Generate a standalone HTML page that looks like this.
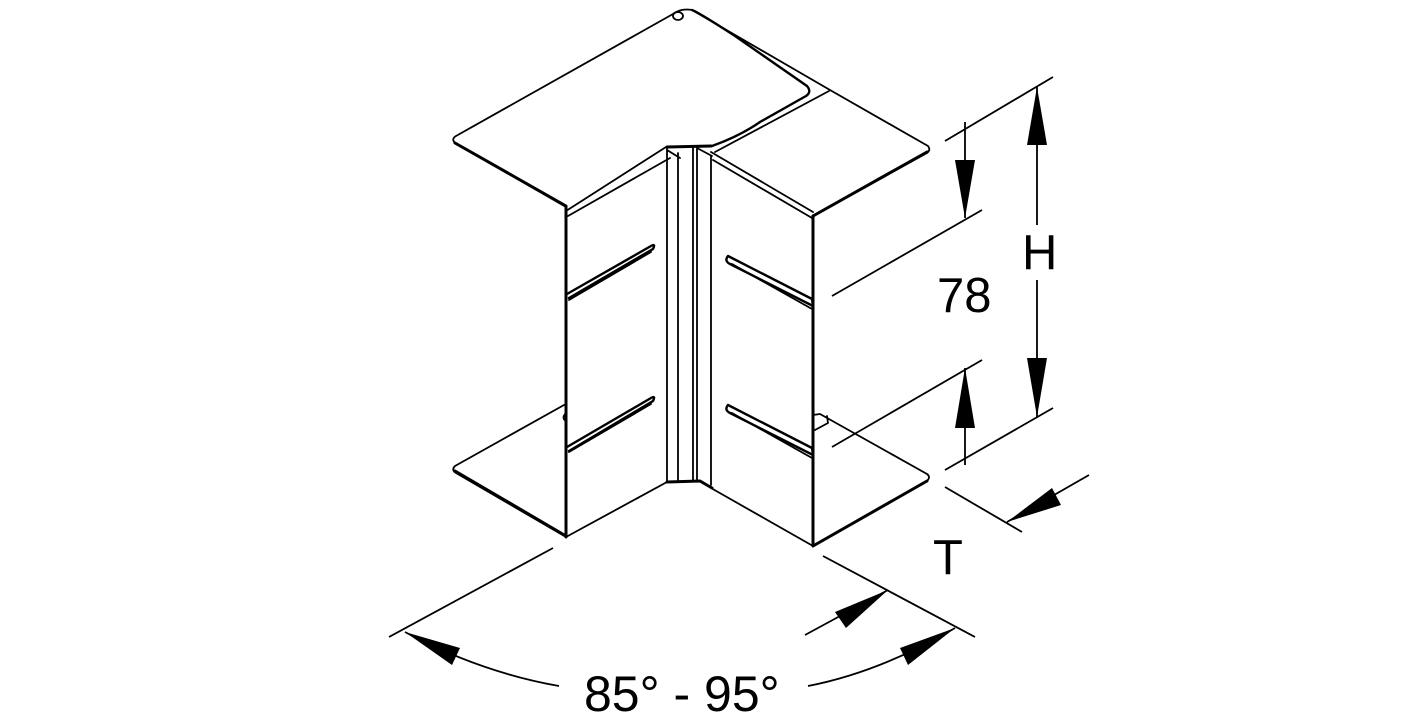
<!DOCTYPE html>
<html><head><meta charset="utf-8"><style>
html,body{margin:0;padding:0;background:#fff;}
svg{display:block}
text{font-family:"Liberation Sans",sans-serif;fill:#000}
</style></head><body>
<svg width="1417" height="720" viewBox="0 0 1417 720" xmlns="http://www.w3.org/2000/svg">
<g fill="none" stroke="#000" stroke-width="1.8" stroke-linejoin="round" stroke-linecap="round">
<!-- top plate -->
<path d="M566,207 L455,143 Q451,139 456,136 L673,14 Q681,8 692,10 L830,90 L928,146 Q931,150 927,153 L813,216" />
<path d="M455,143 L566,206" stroke-width="3"/>
<path d="M813,216 L927,152" stroke-width="3"/>
<path d="M692,10 Q698,12 735,36 L807,86 Q812,92 806,96 L760,122 Q740,136 712,146" stroke-width="2.4"/>
<path d="M829,91 L715,152"/>
<ellipse cx="678" cy="16" rx="5" ry="4"/>
<path d="M566,211 L666,147 M568,216 L670,158"/>
<path d="M566,207 L566,537" stroke-width="3"/>
<!-- center channel -->
<path d="M667,147 L711,146" stroke-width="3"/>
<path d="M667,147 L667,482 M678,153 L678,480 M693,147 L693,480 M697,147 L697,480 M711,156 L711,485 M667,150 L680,158 M697,148 L712,156"/>
<path d="M667,482 L700,481 L712,488" stroke-width="3"/>
<!-- right wall -->
<path d="M711,152 L813,212 M713,160 L812,218"/>
<path d="M813,216 L813,545" stroke-width="3"/>
<!-- slots left -->
<path d="M567,294 L651,246 Q656,243 653,249 L569,298" stroke-width="2.4"/>
<path d="M569,300 L651,252"/>
<path d="M567,447 L651,398 Q656,395 653,401 L569,451" stroke-width="2.4"/>
<path d="M569,452 L651,404"/>
<!-- slots right -->
<path d="M728,256 Q724,261 730,264 L813,306 L812,299 Z" stroke-width="2.4"/>
<path d="M728,405 Q724,410 730,413 L813,455 L812,448 Z" stroke-width="2.4"/>
<path d="M732,264 L812,309 M732,413 L812,458"/>
<!-- bottom plates -->
<path d="M564,405 L455,466 Q451,470 456,473 L566,537 L667,482" />
<path d="M455,471 L566,536" stroke-width="3"/>
<path d="M566,413 Q561,418 566,421"/>
<path d="M711,488 L813,546 L927,481 Q931,477 927,474 L820,414 L813,415 M815,430 L828,423 L827,416"/>
<path d="M813,546 L927,481" stroke-width="3"/>
</g>
<!-- dimension lines -->
<g fill="none" stroke="#000" stroke-width="1.8">
<path d="M945,141 L1053,77 M832,296 L982,210 M832,447 L982,360 M945,470 L1053,408"/>
<path d="M965,122 L965,218 M965,368 L965,465"/>
<path d="M1037,87 L1037,225 M1037,280 L1037,417"/>
<path d="M945,487 L1022,532 M1089,475 L1007,522"/>
<path d="M553,548 L389,637 M823,556 L975,637 M805,635 L888,590"/>
<path d="M405,632 Q480,672 559,686 M955,628 Q880,672 808,686"/>
</g>
<g fill="#000" stroke="none">
<polygon points="965,218 955,160 975,160"/>
<polygon points="965,368 955,428 975,428"/>
<polygon points="1037,87 1027,145 1047,145"/>
<polygon points="1037,417 1027,358 1047,358"/>
<polygon points="1007,522 1052,488 1061,505"/>
<polygon points="888,590 835,612 846,628"/>
<polygon points="405,632 460,648 452,665"/>
<polygon points="955,628 900,648 908,665"/>
</g>
<text x="1022" y="269" font-size="49">H</text>
<text x="937" y="312" font-size="49">78</text>
<text x="933" y="574" font-size="49">T</text>
<text x="584" y="711" font-size="50">85° - 95°</text>
</svg>
</body></html>
